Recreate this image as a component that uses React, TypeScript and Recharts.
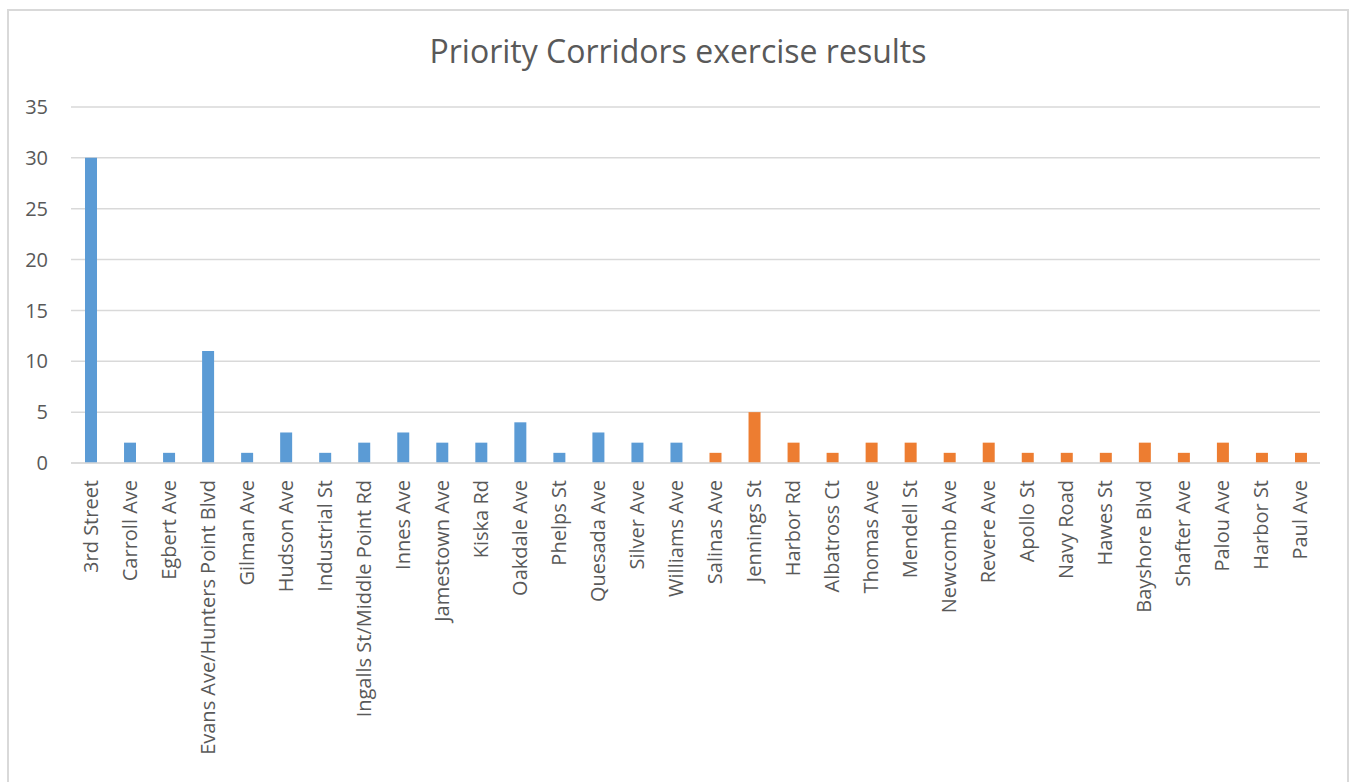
import { BarChart, Bar, XAxis, YAxis, CartesianGrid } from "recharts"

const corridors = [
  "3rd Street", "Carroll Ave", "Egbert Ave", "Evans Ave/Hunters Point Blvd", "Gilman Ave",
  "Hudson Ave", "Industrial St", "Ingalls St/Middle Point Rd", "Innes Ave", "Jamestown Ave",
  "Kiska Rd", "Oakdale Ave", "Phelps St", "Quesada Ave", "Silver Ave", "Williams Ave",
  "Salinas Ave", "Jennings St", "Harbor Rd", "Albatross Ct", "Thomas Ave", "Mendell St",
  "Newcomb Ave", "Revere Ave", "Apollo St", "Navy Road", "Hawes St", "Bayshore Blvd",
  "Shafter Ave", "Palou Ave", "Harbor St", "Paul Ave",
]

// first group (blue), then second group (orange); null where a corridor is not in the group
const groupA = [30, 2, 1, 11, 1, 3, 1, 2, 3, 2, 2, 4, 1, 3, 2, 2]
const groupB = [1, 5, 2, 1, 2, 2, 1, 2, 1, 1, 1, 2, 1, 2, 1, 1]

const yTicks = [0, 5, 10, 15, 20, 25, 30, 35]

const data = corridors.map((name, i) => ({
  name,
  a: i < groupA.length ? groupA[i] : null,
  b: i >= groupA.length ? groupB[i - groupA.length] : null,
}))

const FONT = "'Open Sans', sans-serif"
const TEXT = "#595959"

function XTick(props: any) {
  const { x, y, payload } = props
  return (
    <g transform={`translate(${x},${y})`}>
      <text
        transform="rotate(-90)"
        x={-9}
        y={0}
        dy="0.35em"
        textAnchor="end"
        fill={TEXT}
        fontSize={20}
        fontFamily={FONT}
      >
        {payload.value}
      </text>
    </g>
  )
}

export default function App() {
  return (
    <div
      style={{
        position: "absolute",
        left: 7,
        top: 9,
        width: 1342,
        height: 800,
        boxSizing: "border-box",
        border: "2px solid #d9d9d9",
        background: "#fff",
      }}
    >
      <BarChart
        width={1338}
        height={780}
        data={data}
        margin={{ top: 96, right: 27, bottom: 0, left: 0 }}
        barSize={12}
      >
        <text
          x={669}
          y={52}
          textAnchor="middle"
          fill={TEXT}
          fontSize={32}
          fontFamily={FONT}
        >
          Priority Corridors exercise results
        </text>
        <CartesianGrid vertical={false} stroke="#d9d9d9" strokeWidth={1.5} />
        <XAxis
          dataKey="name"
          interval={0}
          height={328}
          tick={<XTick />}
          tickLine={false}
          axisLine={{ stroke: "#d9d9d9", strokeWidth: 1.5 }}
        />
        <YAxis
          domain={[0, 35]}
          ticks={yTicks}
          width={62}
          tickLine={false}
          axisLine={false}
          tickMargin={17}
          tick={{ fill: TEXT, fontSize: 20, fontFamily: FONT }}
        />
        <Bar dataKey="a" stackId="s" fill="#5B9BD5" isAnimationActive={false} />
        <Bar dataKey="b" stackId="s" fill="#ED7D31" isAnimationActive={false} />
      </BarChart>
    </div>
  )
}
